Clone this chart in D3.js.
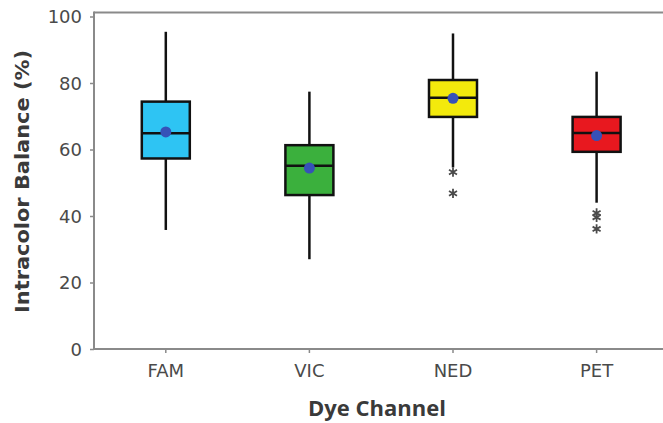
<!DOCTYPE html>
<html><head><meta charset="utf-8">
<script src="https://cdn.jsdelivr.net/npm/d3@7"></script>
<style>body{margin:0;background:#fff}svg{display:block}</style>
</head><body>
<svg id="c" width="663" height="423"></svg>
<script>
const categories = ["FAM", "VIC", "NED", "PET"];
const colors = ["#2ec4f3", "#3bb03d", "#f3ea0c", "#e8181f"];
const whiskerHigh = [95.4, 77.4, 94.9, 83.4];
const q3 = [74.4, 61.3, 80.9, 69.8];
const median = [64.9, 55.1, 75.6, 65.0];
const q1 = [57.3, 46.3, 69.8, 59.3];
const whiskerLow = [35.8, 27.0, 54.6, 44.0];
const means = [65.3, 54.4, 75.4, 64.2];
const outliers = [[], [], [53.2, 46.8], [40.9, 39.6, 36.1]];
const yTicks = [0, 20, 40, 60, 80, 100];

const svg = d3.select("#c");
const left = 94, bottom = 349, top100 = 16.5, frameTop = 12.5;
const x = d3.scaleBand().domain(categories).range([left, left + 4 * 143.6]).padding(0);
const y = d3.scaleLinear().domain([0, 100]).range([bottom, top100]);
const axisColor = "#8a8a8a";

// frame
svg.append("line").attr("x1", left).attr("x2", 663).attr("y1", frameTop).attr("y2", frameTop)
  .attr("stroke", axisColor).attr("stroke-width", 2);

const yAxis = svg.append("g").attr("transform", `translate(${left},0)`)
  .call(d3.axisLeft(y).tickValues(yTicks).tickSize(4).tickPadding(8));
yAxis.select(".domain").remove();
yAxis.append("line").attr("x1", 0).attr("x2", 0).attr("y1", frameTop - 1).attr("y2", bottom + 1)
  .attr("stroke", axisColor).attr("stroke-width", 2);
yAxis.selectAll(".tick line").attr("stroke", axisColor).attr("stroke-width", 1.5);
yAxis.selectAll(".tick text").attr("font-family", "DejaVu Sans").attr("font-size", 18)
  .attr("fill", "#4a4a4a").attr("dy", "0.36em");

const xAxis = svg.append("g").attr("transform", `translate(0,${bottom})`)
  .call(d3.axisBottom(x).tickSize(4).tickPadding(11));
xAxis.select(".domain").remove();
xAxis.append("line").attr("x1", left - 1).attr("x2", 663).attr("y1", 0).attr("y2", 0)
  .attr("stroke", axisColor).attr("stroke-width", 2);
xAxis.selectAll(".tick line").attr("stroke", axisColor).attr("stroke-width", 1.5);
xAxis.selectAll(".tick text").attr("font-family", "DejaVu Sans").attr("font-size", 18)
  .attr("fill", "#4a4a4a");

// axis titles
svg.append("text").attr("x", 377).attr("y", 416).attr("text-anchor", "middle")
  .attr("font-family", "Open Sans").attr("font-weight", "bold").attr("font-size", 22)
  .attr("fill", "#3a3a3a").text("Dye Channel");
svg.append("text").attr("transform", "translate(28.5,181.5) rotate(-90)").attr("text-anchor", "middle")
  .attr("font-family", "DejaVu Sans").attr("font-weight", "bold").attr("font-size", 20)
  .attr("textLength", 263).attr("lengthAdjust", "spacingAndGlyphs")
  .attr("fill", "#3a3a3a").text("Intracolor Balance (%)");

const bw = 48;
const g = svg.append("g");
categories.forEach((c, i) => {
  const cx = x(c) + x.bandwidth() / 2;
  // whiskers
  g.append("line").attr("x1", cx).attr("x2", cx).attr("y1", y(whiskerHigh[i])).attr("y2", y(q3[i]))
    .attr("stroke", "#111").attr("stroke-width", 2.5);
  g.append("line").attr("x1", cx).attr("x2", cx).attr("y1", y(q1[i])).attr("y2", y(whiskerLow[i]))
    .attr("stroke", "#111").attr("stroke-width", 2.5);
  // box
  g.append("rect").attr("x", cx - bw / 2).attr("width", bw).attr("y", y(q3[i]))
    .attr("height", y(q1[i]) - y(q3[i])).attr("fill", colors[i]).attr("stroke", "#111").attr("stroke-width", 2.5);
  g.append("line").attr("x1", cx - bw / 2).attr("x2", cx + bw / 2).attr("y1", y(median[i])).attr("y2", y(median[i]))
    .attr("stroke", "#111").attr("stroke-width", 2.5);
  // mean
  g.append("circle").attr("cx", cx).attr("cy", y(means[i])).attr("r", 5.5).attr("fill", "#3651b8");
  // outliers
  outliers[i].forEach(v => {
    g.append("path").attr("d", d3.symbol(d3.symbolAsterisk, 60)())
      .attr("transform", `translate(${cx},${y(v)})`).attr("stroke", "#4a4a4a").attr("stroke-width", 1.8).attr("fill", "none");
  });
});
</script>
</body></html>
